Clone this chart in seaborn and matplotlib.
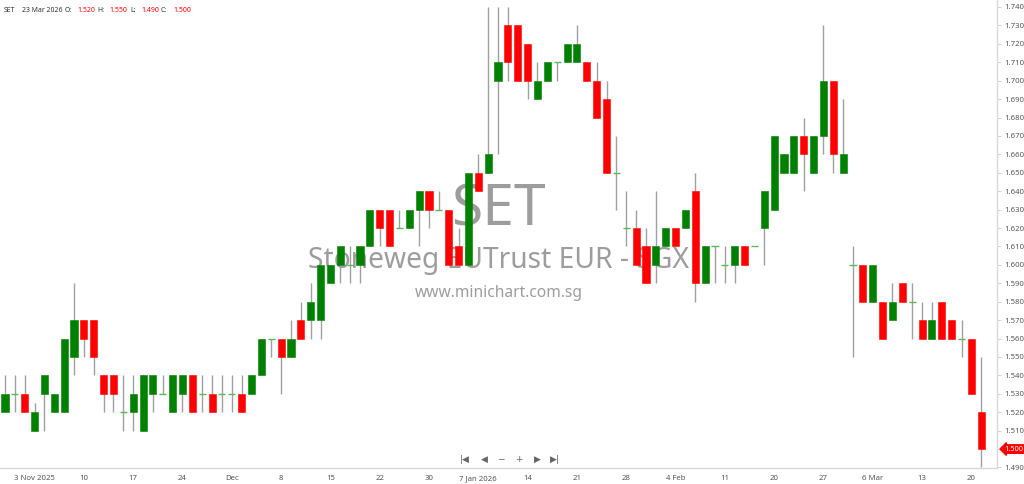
import seaborn as sns
import numpy as np
import pandas as pd
import matplotlib.pyplot as plt
from matplotlib import transforms

# daily candles, oldest first (SET - Stoneweg EUTrust EUR, SGX)
opens = [1.520, 1.530, 1.530, 1.510, 1.530, 1.520, 1.520, 1.550, 1.570, 1.570,
         1.540, 1.540, 1.520, 1.520, 1.510, 1.530, 1.530, 1.520, 1.530, 1.540,
         1.530, 1.530, 1.530, 1.530, 1.530, 1.530, 1.540, 1.560, 1.560, 1.550,
         1.570, 1.570, 1.570, 1.590, 1.600, 1.600, 1.600, 1.610, 1.630, 1.630,
         1.620, 1.620, 1.630, 1.640, 1.630, 1.630, 1.610, 1.600, 1.650, 1.650,
         1.700, 1.730, 1.730, 1.720, 1.690, 1.700, 1.710, 1.710, 1.710, 1.710,
         1.700, 1.690, 1.650, 1.620, 1.620, 1.610, 1.600, 1.610, 1.620, 1.620,
         1.640, 1.590, 1.610, 1.600, 1.600, 1.610, 1.610, 1.620, 1.630, 1.650,
         1.650, 1.670, 1.650, 1.670, 1.700, 1.650, 1.600, 1.600, 1.580, 1.580,
         1.570, 1.590, 1.580, 1.570, 1.560, 1.580, 1.570, 1.560, 1.560, 1.520]
highs = [1.540, 1.540, 1.540, 1.525, 1.540, 1.530, 1.560, 1.590, 1.570, 1.570,
         1.540, 1.540, 1.540, 1.540, 1.540, 1.540, 1.540, 1.540, 1.540, 1.540,
         1.540, 1.540, 1.540, 1.540, 1.540, 1.540, 1.560, 1.560, 1.560, 1.570,
         1.580, 1.590, 1.600, 1.600, 1.610, 1.610, 1.610, 1.630, 1.630, 1.630,
         1.630, 1.630, 1.640, 1.640, 1.640, 1.630, 1.620, 1.650, 1.660, 1.740,
         1.740, 1.740, 1.730, 1.720, 1.710, 1.710, 1.710, 1.720, 1.730, 1.710,
         1.710, 1.700, 1.670, 1.640, 1.630, 1.620, 1.640, 1.620, 1.620, 1.630,
         1.650, 1.610, 1.610, 1.610, 1.610, 1.610, 1.610, 1.640, 1.670, 1.660,
         1.670, 1.680, 1.670, 1.730, 1.700, 1.690, 1.610, 1.600, 1.600, 1.580,
         1.590, 1.590, 1.590, 1.580, 1.580, 1.580, 1.570, 1.570, 1.560, 1.550]
lows = [1.520, 1.520, 1.520, 1.510, 1.510, 1.520, 1.520, 1.540, 1.550, 1.540,
        1.520, 1.520, 1.510, 1.510, 1.510, 1.520, 1.530, 1.520, 1.520, 1.520,
        1.520, 1.520, 1.520, 1.520, 1.520, 1.530, 1.540, 1.550, 1.530, 1.550,
        1.560, 1.560, 1.560, 1.590, 1.590, 1.590, 1.590, 1.610, 1.610, 1.610,
        1.620, 1.620, 1.610, 1.620, 1.630, 1.600, 1.600, 1.600, 1.640, 1.650,
        1.660, 1.700, 1.700, 1.690, 1.690, 1.700, 1.700, 1.710, 1.710, 1.700,
        1.680, 1.650, 1.630, 1.610, 1.600, 1.590, 1.590, 1.610, 1.610, 1.620,
        1.580, 1.590, 1.590, 1.590, 1.590, 1.600, 1.610, 1.600, 1.630, 1.650,
        1.650, 1.640, 1.650, 1.660, 1.650, 1.650, 1.550, 1.580, 1.580, 1.560,
        1.570, 1.580, 1.560, 1.560, 1.560, 1.560, 1.560, 1.550, 1.530, 1.490]
closes = [1.530, 1.530, 1.520, 1.520, 1.540, 1.530, 1.560, 1.570, 1.560, 1.550,
          1.530, 1.530, 1.520, 1.530, 1.540, 1.540, 1.530, 1.540, 1.540, 1.520,
          1.530, 1.520, 1.530, 1.530, 1.520, 1.540, 1.560, 1.560, 1.550, 1.560,
          1.560, 1.580, 1.600, 1.600, 1.610, 1.600, 1.610, 1.630, 1.620, 1.610,
          1.620, 1.630, 1.640, 1.630, 1.630, 1.600, 1.600, 1.650, 1.640, 1.660,
          1.710, 1.710, 1.700, 1.700, 1.700, 1.710, 1.710, 1.720, 1.720, 1.700,
          1.680, 1.650, 1.650, 1.620, 1.600, 1.590, 1.610, 1.620, 1.610, 1.630,
          1.590, 1.610, 1.610, 1.600, 1.610, 1.600, 1.610, 1.640, 1.670, 1.660,
          1.670, 1.660, 1.670, 1.700, 1.660, 1.660, 1.600, 1.580, 1.600, 1.560,
          1.580, 1.580, 1.580, 1.560, 1.570, 1.560, 1.560, 1.560, 1.530, 1.500]

tick_pos = [3, 8, 13, 18, 23, 28, 33, 38, 43, 48, 53, 58, 63, 68, 73, 78, 83, 88, 93, 98]
tick_labels = ["3 Nov 2025", "10", "17", "24", "Dec", "8", "15", "22", "30", "7 Jan 2026",
               "14", "21", "28", "4 Feb", "11", "20", "27", "6 Mar", "13", "20"]

df = pd.DataFrame({"open": opens, "high": highs, "low": lows, "close": closes})
df["x"] = np.arange(len(df))
df["dir"] = np.where(df.close > df.open, "up", np.where(df.close < df.open, "down", "flat"))

sns.set_theme(style="white")
plt.rcParams['font.family'] = ['Noto Sans', 'DejaVu Sans']

W, H = 1024, 484
fig = plt.figure(figsize=(W / 100, H / 100), dpi=100)
ax = fig.add_axes([0, 16 / H, 997 / W, 468 / H])

GREEN, RED = "#008000", "#ff0000"
ax.vlines(df.x, df.low, df.high, color="#a0a0a0", lw=1, zorder=1)
bw = 0.72
for d, col in [("up", GREEN), ("down", RED)]:
    s = df[df.dir == d]
    lo = np.minimum(s.open, s.close)
    ax.bar(s.x, np.abs(s.close - s.open), bottom=lo, width=bw, color=col,
           edgecolor=col, linewidth=0.4, zorder=2)
flat = df[df.dir == "flat"]
ax.hlines(flat.open, flat.x - bw / 2, flat.x + bw / 2, color="#5cb85c", lw=1, zorder=2)

ax.set_xlim(-0.507, 100.6)
ax.set_ylim(1.4897, 1.7438)

last = df.close.iloc[-1]
ax.set_xticks(tick_pos)
ax.set_xticklabels(tick_labels)
yt = np.round(np.arange(1.49, 1.7401, 0.01), 3)
ax.set_yticks(yt)
# the last-price tag sits over its own tick label
ax.set_yticklabels(["" if abs(v - last) < 1e-9 else f"{v:.3f}" for v in yt])
ax.yaxis.tick_right()
ax.tick_params(axis="both", labelsize=5.6, length=3, width=0.6, direction="out", pad=2,
               colors="#cccccc", labelcolor="#555555")
for side in ["top", "left"]:
    ax.spines[side].set_visible(False)
for side in ["right", "bottom"]:
    ax.spines[side].set_color("#d8d8d8")
    ax.spines[side].set_linewidth(1)

# watermark
wm = "#8c8c8c"
ax.text(0.50, 0.519, "SET", transform=ax.transAxes, ha="center", va="baseline",
        fontsize=41, color=wm, alpha=0.85, zorder=0)
ax.text(0.50, 0.427, "Stoneweg EUTrust EUR - SGX", transform=ax.transAxes, ha="center",
        va="baseline", fontsize=20.3, color=wm, alpha=0.85, zorder=0)
ax.text(0.50, 0.365, "www.minichart.com.sg", transform=ax.transAxes, ha="center",
        va="baseline", fontsize=11.2, color=wm, alpha=0.85, zorder=0)

# last price tag
trans = transforms.blended_transform_factory(ax.transAxes, ax.transData)
ax.text(1.0075, last, f"{last:.3f}", transform=trans, ha="left", va="center",
        fontsize=5.4, color="white", clip_on=False, zorder=5,
        bbox=dict(boxstyle="larrow,pad=0.1", fc=RED, ec=RED))

# header
hdr = [("SET", 4, "#333333"), ("23 Mar 2026", 22, "#333333"),
       ("O:", 65, "#333333"), (f"{opens[-1]:.3f}", 77, RED),
       ("H:", 97, "#333333"), (f"{highs[-1]:.3f}", 109, RED),
       ("L:", 130, "#333333"), (f"{lows[-1]:.3f}", 141, RED),
       ("C:", 161, "#333333"), (f"{closes[-1]:.3f}", 173, RED)]
for txt, px, col in hdr:
    fig.text(px / W, 1 - 10 / H, txt, ha="left", va="center", fontsize=5.0, color=col)

# navigation controls
nav = [("|◀", 465), ("◀", 484), ("−", 501), ("+", 519), ("▶", 537), ("▶|", 555)]
for txt, px in nav:
    fig.text(px / W, 1 - 459 / H, txt, ha="center", va="center", fontsize=6.5,
             color="#666666", family=["DejaVu Sans"])

fig.savefig("out.png", dpi=100)
